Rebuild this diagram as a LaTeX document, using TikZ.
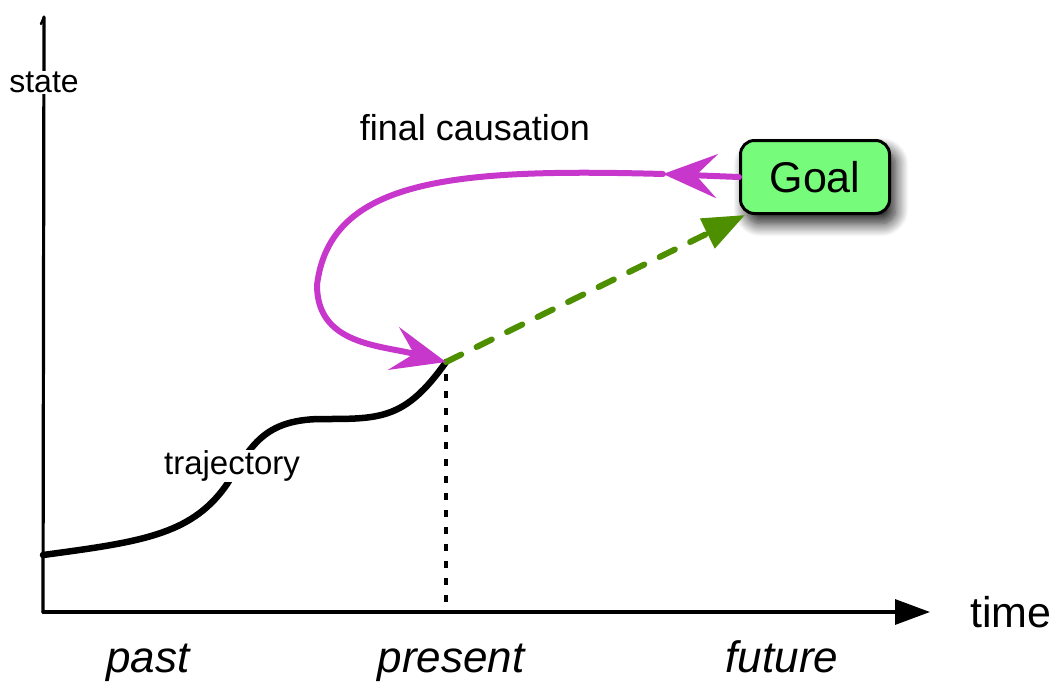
\documentclass[tikz,border=0pt]{standalone}
\usepackage{fontspec}
\setmainfont{Liberation Sans}
\usetikzlibrary{arrows.meta,shadows.blur}
\definecolor{goalfill}{HTML}{77FB7B}
\definecolor{causal}{HTML}{C837CC}
\definecolor{plan}{HTML}{4E8F00}
\tikzset{
  axisline/.style={line width=3.2pt, line cap=round},
  pathline/.style={line width=6.5pt, line cap=round},
  causeline/.style={line width=6pt, draw=causal, line cap=round},
  planline/.style={line width=6pt, draw=plan, line cap=round, dash pattern=on 17pt off 17pt},
  causetip/.style={-{Stealth[length=54pt,width=44pt,inset=21pt,fill=causal,color=causal]}},
  labeltext/.style={inner sep=2pt, font=\fontsize{33}{38}\selectfont},
  eratext/.style={inner sep=0pt, anchor=base, font=\fontsize{44}{50}\selectfont\itshape},
  goalbox/.style={draw, line width=3pt, rounded corners=14pt, fill=goalfill,
    minimum width=149pt, minimum height=73pt, font=\fontsize{43}{48}\selectfont,
    blur shadow={shadow xshift=6pt, shadow yshift=-10pt, shadow blur radius=13pt,
      shadow blur steps=16, shadow opacity=90}}
}
\begin{document}
\begin{tikzpicture}[x=1pt,y=-1pt]
\useasboundingbox (0,0) rectangle (1058,681);

% axes
\coordinate (origin) at (43,612);
\coordinate (ytop) at (44,17);
\coordinate (xend) at (930,612);
\draw[axisline] (origin) -- (ytop);
\draw[line width=2.4pt, line cap=round] (ytop) -- (41,24);
\draw[axisline, -{Triangle[length=35pt,width=25pt]}] (origin) -- (xend);

% present marker
\coordinate (now) at (446,362);
\coordinate (nowfoot) at (446,604);
\draw[line width=4pt, dash pattern=on 7pt off 10pt] (446,374) -- (nowfoot);

% trajectory up to the present
\coordinate (start) at (43,555);
\draw[pathline] (start) .. controls (140,542) and (190,535) .. (225,487)
  .. controls (250,450) and (260,420) .. (320,419)
  .. controls (380,419) and (405,420) .. (now);

% goal
\node[goalbox] (goal) at (815,177) {Goal};

% planned path towards the goal
\coordinate (aim) at (745,215);
\draw[planline, -{Triangle[length=42pt,width=32pt,color=plan]}] (now) -- (aim);

% final causation loop from the goal back to the present
\coordinate (m1) at (663,174);
\coordinate (m2) at (317,285);
\draw[causeline, causetip] (goal.west) -- (m1);
\draw[causeline, causetip] (m1) .. controls (450,168) and (330,180) .. (m2)
  .. controls (317,345) and (380,345) .. (now);

% labels
\node[labeltext, fill=white, inner sep=1pt, font=\fontsize{32}{36}\selectfont] (state) at (44,82) {state};
\node[labeltext, font=\fontsize{36}{40}\selectfont] (final) at (475,128) {final causation};
\node[labeltext, fill=white, inner sep=1pt] (traj) at (232,466) {trajectory};
\node[font=\fontsize{43}{48}\selectfont] (time) at (1011,612) {time};
\node[eratext] (past) at (148,672) {past};
\node[eratext] (present) at (451,672) {present};
\node[eratext] (future) at (782,672) {future};
\end{tikzpicture}
\end{document}
